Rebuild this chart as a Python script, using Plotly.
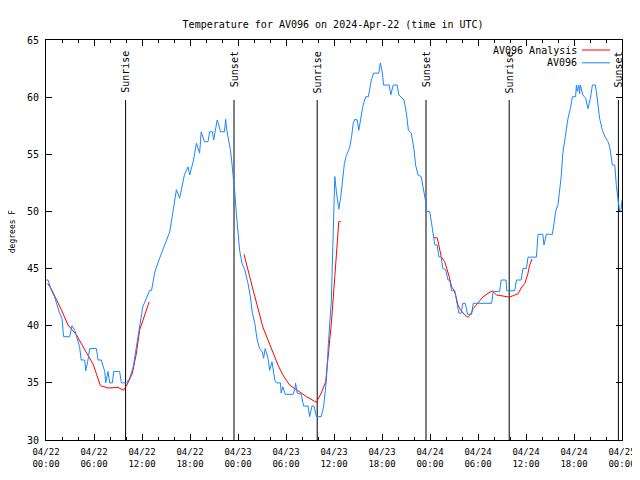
import plotly.graph_objects as go

# Hours since 2024-04-22 00:00 UTC
OBS_HOURS = [0.0, 0.25, 0.67, 1.09, 1.3, 1.7, 2.0, 2.2, 2.96, 3.25, 3.6, 3.8, 4.2, 4.4, 4.84, 4.96, 5.25, 5.46,
             6.3, 6.5, 6.9, 7.34, 7.46, 7.75, 7.96, 8.3, 8.46, 9.2, 9.42, 10.05, 10.46, 10.9, 11.3, 11.7, 12.1,
             12.55, 12.96, 13.2, 13.6, 14.2, 14.8, 15.46, 15.9, 16.3, 16.7, 17.1, 17.3, 17.75, 17.96, 18.4, 18.8,
             19.2, 19.4, 19.8, 20.25, 20.46, 20.8, 20.96, 21.4, 21.6, 21.8, 22.3, 22.46, 22.6, 22.96, 23.05, 23.2,
             23.46, 23.6, 23.8, 24.0, 24.2, 24.5, 24.84, 25.25, 25.55, 25.8, 26.1, 26.4, 26.7, 27.05, 27.2, 27.4,
             27.75, 27.96, 28.25, 28.6, 28.8, 29.3, 29.4, 29.6, 29.9, 30.9, 31.1, 31.2, 31.4, 31.9, 32.2, 32.75,
             32.96, 33.25, 33.5, 33.8, 34.4, 34.7, 35.05, 35.3, 35.67, 35.9, 36.0, 36.1, 36.3, 36.6, 36.85, 37.1,
             37.3, 37.55, 37.96, 38.2, 38.4, 38.6, 38.9, 39.1, 39.3, 39.6, 39.96, 40.3, 40.67, 40.96, 41.6, 41.8,
             42.05, 42.2, 42.9, 43.1, 43.4, 43.9, 44.1, 44.75, 45.05, 45.3, 45.67, 46.0, 46.2, 46.5, 46.9, 47.2,
             47.46, 47.6, 47.96, 48.2, 48.4, 48.6, 48.9, 49.1, 49.4, 49.6, 49.96, 50.25, 50.46, 50.7, 51.1, 51.4,
             51.6, 51.9, 52.1, 52.4, 52.7, 53.2, 53.4, 55.7, 55.9, 56.7, 56.9, 57.5, 57.6, 58.6, 58.8, 59.4, 59.6,
             60.05, 60.25, 61.3, 61.5, 62.1, 62.25, 62.55, 63.3, 63.5, 63.7, 64.0, 64.2, 64.4, 64.6, 64.84, 65.05,
             65.25, 65.55, 65.8, 66.2, 66.3, 66.4, 66.6, 66.7, 66.8, 67.1, 67.46, 67.75, 68.05, 68.3, 68.67, 68.9,
             69.2, 69.55, 69.9, 70.25, 70.46, 70.8, 71.1, 71.3, 71.5, 71.7, 71.85, 72.0]
OBS_TEMPS = [44.0, 44.0, 43.1, 42.5, 42.0, 41.1, 40.65, 39.04, 39.04, 40.0, 39.6, 39.04, 38.16, 37.0, 37.0, 36.06,
             37.0, 38.0, 38.0, 37.0, 37.0, 36.0, 35.0, 36.0, 35.0, 35.0, 36.0, 36.0, 35.0, 35.0, 35.4, 36.4, 38.16,
             40.2, 41.66, 42.4, 43.1, 43.1, 44.7, 45.9, 47.06, 48.2, 50.1, 51.9, 51.15, 52.75, 53.2, 53.9, 53.2,
             54.35, 55.96, 55.1, 56.97, 56.1, 56.1, 56.97, 56.97, 56.25, 58.0, 57.56, 56.97, 56.97, 58.06, 57.1,
             55.96, 55.4, 54.5, 52.75, 51.6, 49.8, 48.1, 46.6, 45.46, 44.9, 43.7, 42.5, 41.1, 40.2, 38.75, 38.0,
             37.7, 37.15, 38.0, 37.15, 36.1, 36.85, 35.25, 35.0, 35.0, 34.1, 34.66, 34.0, 34.0, 34.44, 34.96, 34.1,
             34.0, 32.97, 32.97, 32.04, 32.97, 32.97, 32.04, 32.04, 32.9, 35.25, 38.46, 42.25, 48.1, 51.8, 53.05,
             51.7, 50.2, 51.3, 53.3, 54.2, 54.9, 55.6, 56.54, 57.7, 58.06, 58.0, 57.1, 58.0, 59.2, 60.04, 60.04,
             61.5, 62.1, 62.1, 63.0, 62.1, 61.06, 61.06, 60.2, 61.06, 61.06, 60.2, 59.75, 58.6, 57.1, 56.84, 55.4,
             54.06, 53.2, 53.04, 52.0, 50.85, 50.0, 50.0, 48.96, 47.8, 47.06, 47.06, 46.04, 46.0, 45.0, 44.9, 44.0,
             44.0, 43.06, 43.06, 42.0, 41.1, 41.1, 41.96, 41.96, 41.0, 41.0, 41.96, 41.96, 43.0, 43.0, 44.0, 44.0,
             43.06, 43.06, 44.0, 44.0, 45.0, 45.0, 46.0, 46.0, 48.0, 48.0, 47.06, 48.0, 48.0, 48.96, 50.0, 50.6,
             51.6, 53.04, 55.1, 56.25, 57.1, 58.15, 59.0, 60.04, 60.04, 61.06, 60.5, 61.06, 60.3, 61.06, 60.2,
             59.9, 59.0, 59.9, 61.06, 61.06, 59.9, 58.15, 57.1, 56.5, 56.1, 55.66, 54.06, 54.06, 52.2, 51.15,
             50.0, 50.0, 51.0]

# Analysis series (None = gap between analysis runs)
ANA_HOURS = [0.2, 0.67, 1.5, 1.92, 2.75, 3.8, 4.84, 5.88, 6.3, 6.8, 7.75, 9.0, 9.7, 10.1, 10.8, 11.3, 11.7, 12.3,
             12.9, 18.0,
             24.75, 25.05, 25.46, 25.9, 26.3, 26.7, 27.1, 27.75, 28.4, 29.0, 29.6, 30.46, 31.3, 32.55, 33.8, 34.4,
             34.96, 35.25, 35.67, 36.1, 36.4, 36.6, 36.84, 42.0,
             48.5, 48.9, 49.1, 49.4, 49.84, 50.05, 50.4, 50.7, 51.0, 51.2, 51.5, 51.8, 52.34, 52.75, 53.05, 53.4,
             54.0, 54.6, 55.25, 55.8, 56.3, 57.1, 57.9, 58.4, 59.0, 59.4, 59.84, 60.2, 60.46, 60.75]
ANA_TEMPS = [43.7, 43.2, 42.0, 41.4, 40.06, 39.2, 37.9, 36.65, 35.8, 34.75, 34.55, 34.6, 34.35, 34.8, 35.84, 37.6,
             39.6, 40.9, 42.1, None,
             46.25, 45.3, 44.3, 43.1, 41.96, 40.8, 39.9, 38.75, 37.6, 36.56, 35.7, 34.8, 34.4, 33.8, 33.3, 34.1,
             35.1, 37.15, 40.2, 44.3, 47.5, 49.1, 49.1, None,
             47.7, 47.7, 47.06, 46.04, 45.6, 45.16, 44.3, 43.4, 43.1, 42.7, 41.8, 41.4, 40.94, 40.74, 40.94, 41.5,
             41.96, 42.5, 42.84, 43.04, 42.7, 42.6, 42.5, 42.63, 42.8, 43.3, 43.7, 44.44, 45.3, 45.84]

SUN_HOURS = [9.95, 23.5, 33.9, 47.5, 57.9, 71.55]
SUN_LABELS = ["Sunrise", "Sunset", "Sunrise", "Sunset", "Sunrise", "Sunset"]

X_TICKS = [0, 6, 12, 18, 24, 30, 36, 42, 48, 54, 60, 66, 72]
X_TICK_LABELS = ["04/22<br>00:00", "04/22<br>06:00", "04/22<br>12:00", "04/22<br>18:00",
                 "04/23<br>00:00", "04/23<br>06:00", "04/23<br>12:00", "04/23<br>18:00",
                 "04/24<br>00:00", "04/24<br>06:00", "04/24<br>12:00", "04/24<br>18:00",
                 "04/25<br>00:00"]
Y_TICKS = [30, 35, 40, 45, 50, 55, 60, 65]

RED = "#ff0000"
BLUE = "#1a86ff"
FONT = "DejaVu Sans Mono"

fig = go.Figure()
fig.add_trace(go.Scatter(x=ANA_HOURS, y=ANA_TEMPS, mode="lines", line=dict(color=RED, width=1),
                         connectgaps=False, showlegend=False, name="AV096 Analysis"))
fig.add_trace(go.Scatter(x=OBS_HOURS, y=OBS_TEMPS, mode="lines", line=dict(color=BLUE, width=1),
                         showlegend=False, name="AV096"))

for h, lab in zip(SUN_HOURS, SUN_LABELS):
    fig.add_shape(type="line", xref="x", yref="paper", x0=h, x1=h, y0=0, y1=0.85,
                  line=dict(color="black", width=1), layer="below")
    fig.add_annotation(x=h, xref="x", y=0.977, yref="paper", text=lab, textangle=-90,
                       showarrow=False, xanchor="center", yanchor="top",
                       font=dict(family=FONT, size=10, color="black"))

# legend (gnuplot style: text right-aligned, sample to the right)
LEGEND = [("AV096 Analysis", RED, 0.975), ("AV096", BLUE, 0.943)]
for name, col, yp in LEGEND:
    fig.add_annotation(x=0.925, xref="paper", y=yp, yref="paper", text=name, showarrow=False,
                       xanchor="right", yanchor="middle", font=dict(family=FONT, size=10, color="black"))
    fig.add_shape(type="line", xref="paper", yref="paper", x0=0.9306, x1=0.9792, y0=yp, y1=yp,
                  line=dict(color=col, width=1))

fig.add_annotation(x=-0.058, xref="paper", y=0.521, yref="paper", text="degrees F", textangle=-90,
                   showarrow=False, xanchor="center", yanchor="middle",
                   font=dict(family=FONT, size=8, color="black"))

# the page body adds an 8px offset, margins compensate for it
fig.update_layout(
    width=640, height=480, autosize=False,
    margin=dict(l=38, r=26, t=32, b=48, autoexpand=False),
    paper_bgcolor="white", plot_bgcolor="white",
    title=dict(text="Temperature for AV096 on 2024-Apr-22 (time in UTC)", x=0.508, xanchor="center",
               y=1 - 16 / 480, yanchor="middle", font=dict(family=FONT, size=10, color="black")),
    font=dict(family=FONT, size=9, color="black"),
    showlegend=False,
)
fig.update_xaxes(range=[0, 72], tickmode="array", tickvals=X_TICKS, ticktext=X_TICK_LABELS,
                 automargin=False,
                 showgrid=False, zeroline=False, showline=True, linecolor="black", linewidth=1,
                 mirror="ticks", ticks="inside", ticklen=6, tickcolor="black",
                 minor=dict(dtick=2, tick0=0, ticks="inside", ticklen=3, tickcolor="black"),
                 ticklabelstandoff=3, tickfont=dict(family=FONT, size=9))
fig.update_yaxes(range=[30, 65], tickmode="array", tickvals=Y_TICKS, automargin=False,
                 showgrid=False, zeroline=False, showline=True, linecolor="black", linewidth=1,
                 mirror="ticks", ticks="inside", ticklen=6, tickcolor="black",
                 ticklabelstandoff=4, tickfont=dict(family=FONT, size=10))

fig.write_html("out.html")
